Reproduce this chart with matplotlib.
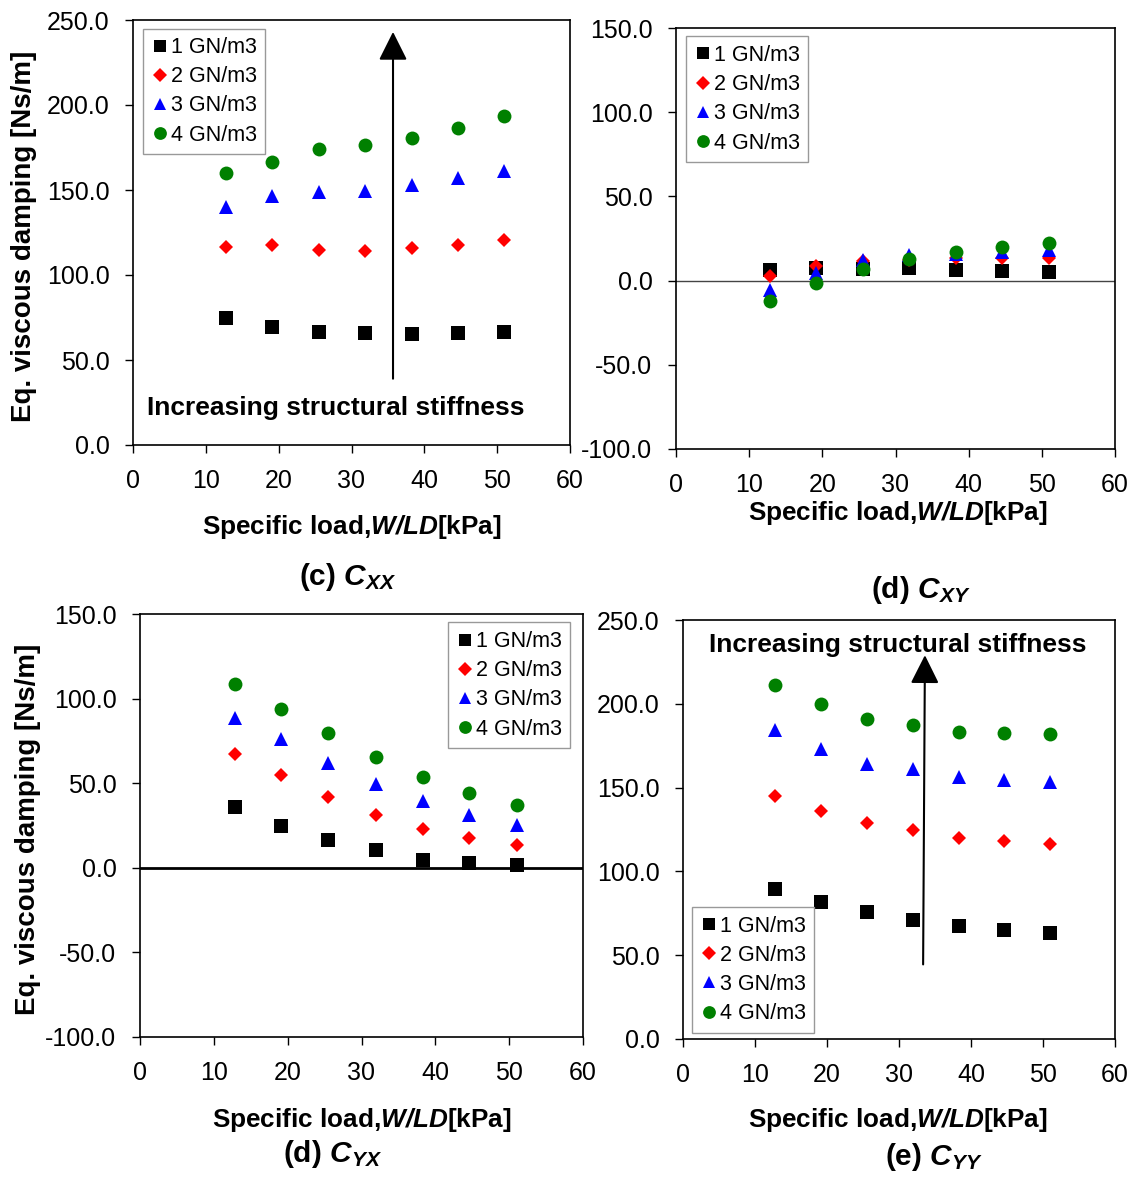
import matplotlib
matplotlib.use('Agg')
import matplotlib.pyplot as plt
import numpy as np

plt.rcParams.update({'font.family': ['Liberation Sans', 'DejaVu Sans'],
                     'mathtext.fontset': 'custom',
                     'mathtext.rm': 'Liberation Sans',
                     'mathtext.it': 'Liberation Sans:italic',
                     'mathtext.bf': 'Liberation Sans:bold',
                     'mathtext.bfit': 'Liberation Sans:italic:bold'})

# specific load W/LD [kPa]
load = [12.8, 19.1, 25.5, 31.9, 38.3, 44.6, 51.0]
labels = ['1 GN/m3', '2 GN/m3', '3 GN/m3', '4 GN/m3']

# (c) Cxx
cxx_1 = [74.9, 69.2, 66.3, 65.7, 65.3, 65.7, 66.3]
cxx_2 = [116.3, 117.5, 114.7, 114.3, 115.9, 117.8, 120.4]
cxx_3 = [139.8, 146.7, 149.0, 149.6, 152.7, 156.9, 161.0]
cxx_4 = [160.2, 166.7, 174.1, 176.3, 180.6, 186.7, 193.3]

# (d) Cxy
cxy_1 = [6.5, 7.7, 7.1, 7.5, 6.5, 5.8, 5.2]
cxy_2 = [2.8, 8.7, 11.7, 12.5, 13.7, 13.5, 13.5]
cxy_3 = [-5.4, 4.6, 12.1, 15.1, 15.7, 16.7, 18.1]
cxy_4 = [-12.1, -1.6, 7.1, 13.1, 17.1, 20.2, 22.6]

# (d) Cyx
cyx_1 = [35.7, 24.9, 16.2, 10.3, 4.7, 2.8, 1.4]
cyx_2 = [67.1, 54.8, 42.0, 31.0, 23.1, 17.6, 13.2]
cyx_3 = [88.6, 76.3, 62.1, 49.7, 39.3, 31.4, 25.2]
cyx_4 = [108.9, 94.1, 79.9, 65.7, 53.5, 44.4, 37.1]

# (e) Cyy
cyy_1 = [89.7, 81.7, 75.7, 71.2, 67.6, 65.2, 63.4]
cyy_2 = [144.9, 136.0, 128.8, 124.9, 120.1, 118.1, 116.3]
cyy_3 = [184.5, 173.2, 164.2, 160.8, 156.3, 154.3, 153.3]
cyy_4 = [211.5, 199.6, 190.7, 187.5, 182.9, 182.5, 182.1]

styles = [('s', 'black', 9.5), ('D', 'red', 7.5), ('^', 'blue', 10), ('o', 'green', 10)]

W, H = 1137, 1180
fig = plt.figure(figsize=(W / 100, H / 100), dpi=100)


def box(l, t, r, b):
    return [l / W, 1 - b / H, (r - l) / W, (b - t) / H]


def panel(rect, series, ymin, ymax, loc, anchor):
    ax = fig.add_axes(box(*rect))
    for ys, (m, c, ms), lab in zip(series, styles, labels):
        ax.plot(load, ys, linestyle='none', marker=m, color=c,
                markersize=ms, markeredgewidth=0, label=lab, zorder=3)
    ax.set_xlim(0, 60)
    ax.set_ylim(ymin, ymax)
    ax.set_xticks(np.arange(0, 61, 10))
    ax.set_yticks(np.arange(ymin, ymax + 1, 50))
    ax.yaxis.set_major_formatter(plt.FormatStrFormatter('%.1f'))
    ax.tick_params(direction='out', length=6, width=1, pad=11, labelsize=18)
    for s in ax.spines.values():
        s.set_linewidth(1.2)
    leg = ax.legend(loc=loc, bbox_to_anchor=anchor, fontsize=15.5, numpoints=1,
                    handlelength=0.85, handletextpad=0.05, labelspacing=0.38,
                    borderpad=0.4, borderaxespad=0, fancybox=False,
                    framealpha=1, markerscale=0.92)
    leg.get_frame().set_edgecolor('#999999')
    leg.get_frame().set_linewidth(1)
    return ax


arrow_kw = dict(arrowstyle='-|>,head_length=0.8,head_width=0.4', lw=1.5,
                color='black', mutation_scale=22, shrinkA=0, shrinkB=0)

ax1 = panel((133, 20, 570, 445), [cxx_1, cxx_2, cxx_3, cxx_4], 0, 250,
            'upper left', (0.022, 0.98))
ax1.annotate('', xy=(35.7, 243), xytext=(35.7, 39), arrowprops=arrow_kw)
ax1.text(1.9, 22, 'Increasing structural stiffness', fontsize=19,
         fontweight='bold', va='center', ha='left')

ax2 = panel((676, 28, 1115, 449), [cxy_1, cxy_2, cxy_3, cxy_4], -100, 150,
            'upper left', (0.022, 0.98))
ax2.axhline(0, color='#444444', lw=1, zorder=1)

ax3 = panel((140, 614, 583, 1037), [cyx_1, cyx_2, cyx_3, cyx_4], -100, 150,
            'upper right', (0.971, 0.98))
ax3.axhline(0, color='black', lw=2, zorder=1)

ax4 = panel((683, 620, 1115, 1039), [cyy_1, cyy_2, cyy_3, cyy_4], 0, 250,
            'lower left', (0.02, 0.015))
ax4.annotate('', xy=(33.6, 229), xytext=(33.35, 44.5), arrowprops=arrow_kw)
ax4.text(29.8, 234.8, 'Increasing structural stiffness', fontsize=19,
         fontweight='bold', va='center', ha='center')

xlab = r'Specific load,$\mathbfit{W/LD}$[kPa]'
ylab = 'Eq. viscous damping [Ns/m]'
for x, y in [(352, 527), (898, 513), (362, 1120), (898, 1120)]:
    fig.text(x / W, 1 - y / H, xlab, fontsize=18.8, fontweight='bold',
             ha='center', va='center')
for x, y in [(24, 236), (28, 829)]:
    fig.text(x / W, 1 - y / H, ylab, fontsize=20, fontweight='bold',
             rotation=90, ha='center', va='center')

subs = [(348, 577, r'(c) $\mathbfit{C_{XX}}$'),
        (921, 590, r'(d) $\mathbfit{C_{XY}}$'),
        (333, 1154, r'(d) $\mathbfit{C_{YX}}$'),
        (934, 1157, r'(e) $\mathbfit{C_{YY}}$')]
for x, y, s in subs:
    fig.text(x / W, 1 - y / H, s, fontsize=21.5, fontweight='bold',
             ha='center', va='center')

fig.savefig('out.png', dpi=100)
